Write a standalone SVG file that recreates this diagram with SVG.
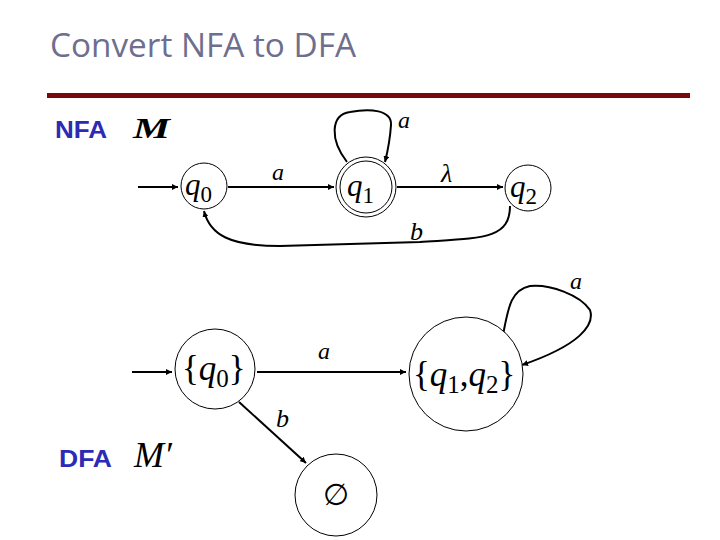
<svg xmlns="http://www.w3.org/2000/svg" width="720" height="540" viewBox="0 0 720 540">
<defs>
<style>
.st{fill:#fff;stroke:#000;stroke-width:1}
.e{fill:none;stroke:#000;stroke-width:2}
.m{font-family:"Liberation Serif",serif;font-style:italic;fill:#000}
.lbl{font-family:"Liberation Sans",sans-serif;font-weight:bold;fill:#2b2bb5;font-size:24px}
</style>
<marker id="ah" viewBox="0 0 10 10" refX="10" refY="5" markerWidth="6" markerHeight="6" orient="auto" markerUnits="userSpaceOnUse">
<path d="M0,0 L10,5 L0,10 z" fill="#000"/>
</marker>
</defs>
<rect width="720" height="540" fill="#fff"/>
<text x="50" y="57" font-family="Open Sans, sans-serif" font-size="32" fill="#6e6e8e" textLength="306" lengthAdjust="spacingAndGlyphs">Convert NFA to DFA</text>
<rect x="47" y="93" width="643" height="5" fill="#7a0a0a"/>
<text class="lbl" x="55" y="138" textLength="52" lengthAdjust="spacingAndGlyphs">NFA</text>
<text class="m" x="133" y="138" font-size="30" font-weight="bold" textLength="37" lengthAdjust="spacingAndGlyphs">M</text>
<text class="lbl" x="59" y="467" textLength="53" lengthAdjust="spacingAndGlyphs">DFA</text>
<text class="m" x="134" y="467" font-size="36">M′</text>
<g id="connectors">
<path class="e" d="M138,187 L178,187" marker-end="url(#ah)"/>
<path class="e" d="M228,187 L334,187" marker-end="url(#ah)"/>
<path class="e" d="M397,187 L503,187" marker-end="url(#ah)"/>
<path class="e" d="M347,162 C330,140 330,115 350,112 C370,108 392,110 391,125 C390,140 388,150 385,162" marker-end="url(#ah)"/>
<path class="e" d="M510,206 C510,240 480,238 420,242 L280,246 C230,246 210,235 204,211" marker-end="url(#ah)"/>
<path class="e" d="M132,372 L172,372" marker-end="url(#ah)"/>
<path class="e" d="M257,372 L406,372" marker-end="url(#ah)"/>
<path class="e" d="M503,335 C508,310 510,290 530,286 C550,284 580,295 590,310 C595,325 580,345 522,365" marker-end="url(#ah)"/>
<path class="e" d="M239,402 L306,463" marker-end="url(#ah)"/>
</g>
<g id="edge-labels">
<text class="m" x="272" y="180" font-size="24">a</text>
<text class="m" x="398" y="128" font-size="24">a</text>
<text class="m" x="441" y="182" font-size="26">λ</text>
<text class="m" x="410" y="240" font-size="26">b</text>
<text class="m" x="318" y="359" font-size="24">a</text>
<text class="m" x="570" y="289" font-size="24">a</text>
<text class="m" x="276" y="427" font-size="26">b</text>
</g>
<g id="q0">
<circle class="st" cx="204" cy="186" r="23"/>
<text class="m" x="185" y="195" font-size="31">q<tspan font-size="23" dy="7" font-style="normal">0</tspan></text>
</g>
<g id="q1">
<circle class="st" cx="366" cy="187" r="30"/>
<circle class="st" cx="366" cy="187" r="26"/>
<text class="m" x="347" y="196" font-size="31">q<tspan font-size="23" dy="7" font-style="normal">1</tspan></text>
</g>
<g id="q2">
<circle class="st" cx="528" cy="188" r="23"/>
<text class="m" x="510" y="197" font-size="31">q<tspan font-size="23" dy="7" font-style="normal">2</tspan></text>
</g>
<g id="Q0">
<circle class="st" cx="215" cy="369" r="40"/>
<text class="m" x="182" y="380" font-size="35"><tspan font-style="normal">{</tspan>q<tspan font-size="25" dy="7" font-style="normal">0</tspan><tspan dy="-7" font-style="normal">}</tspan></text>
</g>
<g id="Q12">
<circle class="st" cx="466" cy="374" r="57"/>
<text class="m" x="413" y="386" font-size="35"><tspan font-style="normal">{</tspan>q<tspan font-size="25" dy="7" font-style="normal">1</tspan><tspan dy="-7" font-style="normal">,</tspan>q<tspan font-size="25" dy="7" font-style="normal">2</tspan><tspan dy="-7" font-style="normal">}</tspan></text>
</g>
<g id="empty">
<circle class="st" cx="336" cy="495" r="41"/>
<text x="336" y="505" font-family="DejaVu Sans, sans-serif" font-size="30" text-anchor="middle">∅</text>
</g>
</svg>
